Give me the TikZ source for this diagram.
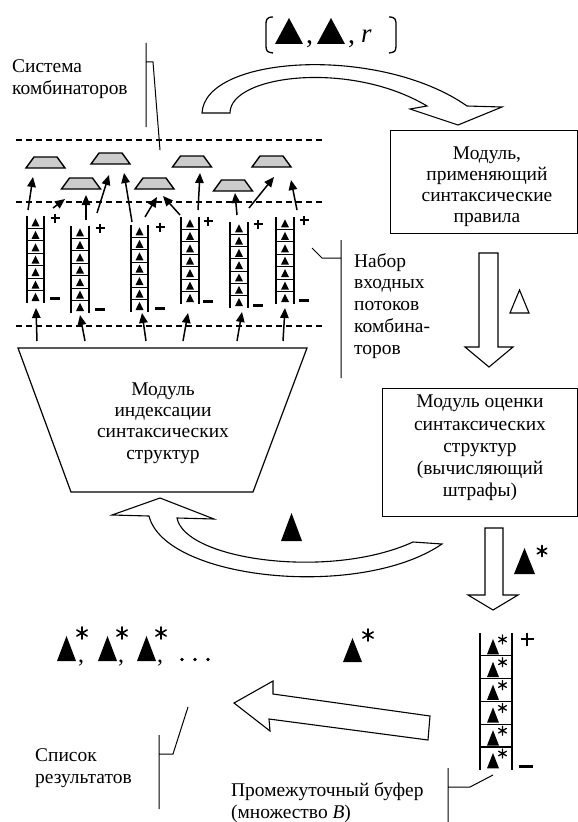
\documentclass[tikz,border=0pt]{standalone}
\usepackage{fontspec}
\setmainfont{Liberation Serif}
\usetikzlibrary{arrows.meta}
\tikzset{
 stk/.style={line width=1.2bp},
 pm/.style={line width=2.6bp},
 mm/.style={line width=3bp},
 trap/.style={draw, line width=1.4bp, fill=gray!40},
 dashln/.style={line width=1.6bp, dash pattern=on 6bp off 4bp},
 arr/.style={line width=1.5bp, -{Triangle[length=10bp,width=8.5bp]}},
 hollow/.style={draw, fill=white, line width=1.1bp, line join=miter},
 thinln/.style={line width=1bp},
 frame/.style={draw, line width=1bp},
 astline/.style={line width=1.5bp, line cap=round},
 txt/.style={inner sep=0pt, font=\fontsize{19.5}{22}\selectfont},
}
\newcommand\combstack[4]{%
  \pgfmathsetmacro\stkh{(#4-#3)/7}%
  \draw[stk] (#1,#3) -- (#1,#4) (#2,#3) -- (#2,#4);
  \foreach \i in {1,...,6}{\draw[stk] (#1,{#3+\i*\stkh}) -- (#2,{#3+\i*\stkh});}
  \foreach \i in {0,...,6}{\fill ({(#1+#2)/2-4},{#3+(\i+1)*\stkh-2}) -- ++(8,0) -- ({(#1+#2)/2},{#3+\i*\stkh+2.4}) -- cycle;}
}
\newcommand\plusmark[3]{\draw[pm] (#1-#3,#2) -- (#1+#3,#2) (#1,#2-#3) -- (#1,#2+#3);}
\newcommand\minusmark[2]{\draw[mm] (#1-5,#2) -- (#1+5,#2);}
\newcommand\gtrap[2]{\draw[trap] (#1-19.5,#2) -- (#1+19.5,#2) -- (#1+11.5,#2-11) -- (#1-11.5,#2-11) -- cycle;}
\newcommand\astk[4]{\draw[astline,line width=#4,shift={(#1,#2)}] (0,-#3) -- (0,#3) (30:#3) -- (210:#3) (150:#3) -- (330:#3);}
\begin{document}
\begin{tikzpicture}[x=1bp,y=-1bp]
\fill[white] (0,0) rectangle (578,822);
\useasboundingbox (0,0) rectangle (578,822);

% dashed levels
\draw[dashln] (16,140) -- (323,140);
\draw[dashln] (16,202) -- (322,202);
\draw[dashln] (16,326) -- (322,326);

% stacks of combinators
\combstack{27}{44}{216}{303}
\combstack{71}{89}{226}{313}
\combstack{131}{148}{225}{312}
\combstack{181}{199}{217}{304}
\combstack{230}{248}{222}{308}
\combstack{276}{294}{217}{304}
\plusmark{55}{218}{4.5}\minusmark{55}{298}
\plusmark{100}{228}{4.5}\minusmark{100}{309}
\plusmark{160}{227}{4.5}\minusmark{160}{308}
\plusmark{208}{221}{4.5}\minusmark{208}{301}
\plusmark{258}{224}{4.5}\minusmark{258}{305}
\plusmark{304}{220}{4.5}\minusmark{304}{300}

% combinators (trapezoids)
\gtrap{45.5}{168}
\gtrap{110.5}{164}
\gtrap{192}{167}
\gtrap{271.5}{167}
\gtrap{81}{189}
\gtrap{154.5}{189}
\gtrap{233}{191}

% arrows from stacks up to combinators
\foreach \xa/\ya/\xb/\yb [count=\n] in {28/210/33/177, 53/208/65/199, 86/220/86/195, 97/213/109/175, 132/222/124/173, 145/217/157/197, 180/215/163/196, 198/210/200/173, 237/215/235/193, 249/208/274/177, 297/210/291/180}{
  \coordinate (ua\n) at (\xa,\ya); \coordinate (ub\n) at (\xb,\yb);
  \draw[arr] (ua\n) -- (ub\n);
}
% arrows from index module up to stacks
\foreach \xa/\xb/\yb [count=\n] in {37/36/308, 85/80/315, 146/142/313, 183/188/313, 237/242/312, 283/285/308}{
  \coordinate (la\n) at (\xa,341); \coordinate (lb\n) at (\xb,\yb);
  \draw[arr] (la\n) -- (lb\n);
}

% index module
\draw[frame, line width=1.2bp] (18,348) -- (307,348) -- (253,492) -- (71,492) -- cycle;
\node[txt, align=center, font=\fontsize{19.5}{21.5}\selectfont] (idxt) at (163,423) {Модуль\\индексации\\синтаксических\\структур};

% label: system of combinators
\node[txt, anchor=west, align=left] (sys) at (12,78.7) {Система\\комбинаторов};
\draw[thinln] (146,43) -- (146,127) (146,62) -- (153,62) -- (160,150);

% top formula
\draw[line width=1.3bp] (273,17) .. controls (266,17) and (266,20) .. (266,26) -- (266,44) .. controls (266,52) and (267,52) .. (273,53);
\draw[line width=1.3bp] (389,17) .. controls (396,17) and (396,20) .. (396,26) -- (396,44) .. controls (396,52) and (395,52) .. (389,53);
\fill (275,44) -- (303,44) -- (289,18) -- cycle;
\fill (317,44) -- (345,44) -- (331,18) -- cycle;
\node[inner sep=0pt, anchor=base, font=\fontsize{28}{30}\selectfont] (c1) at (309.5,44) {,};
\node[inner sep=0pt, anchor=base, font=\fontsize{28}{30}\selectfont] (c2) at (351.5,44) {,};
\node[inner sep=0pt, anchor=base west, font=\fontsize{27}{29}\selectfont\itshape] (rr) at (361,43) {r};

% top curved hollow arrow
\draw[hollow] (202,113) -- (230,113) .. controls (230,75) and (350,60) .. (427,106) -- (410,109) -- (458,125) -- (502,107) -- (467,106) .. controls (380,45) and (205,55) .. cycle;

% box 1
\draw[frame] (390,130) rectangle (577,233);
\node[txt, align=center, font=\fontsize{19.5}{21}\selectfont] (box1t) at (487,187) {Модуль,\\применяющий\\синтаксические\\правила};

% down arrow 1 with delta
\draw[hollow] (479,253) -- (498,253) -- (498,347) -- (513,347) -- (489,367) -- (465,347) -- (479,347) -- cycle;
\draw[line width=1.1bp, line join=miter] (510,313) -- (529,313) -- (519.5,290) -- cycle;

% label: input streams
\node[txt, anchor=west, align=left] (nabor) at (354,306) {Набор\\входных\\потоков\\комбина-\\торов};
\draw[thinln] (341,240) -- (341,378) (341,258) -- (322,258) -- (312,248);

% box 2
\draw[frame] (382,388) rectangle (577,516);
\node[txt, align=center, font=\fontsize{19.5}{22.3}\selectfont] (box2t) at (480,448) {Модуль оценки\\синтаксических\\структур\\(вычисляющий\\штрафы)};

% return curved arrow
\draw[hollow] (160,498) -- (214,519) -- (177,518) .. controls (185,560) and (330,580) .. (413,542) -- (442,544) .. controls (360,600) and (165,580) .. (149,516) -- (112,515) -- cycle;
\fill (281,541) -- (302,541) -- (291.5,513) -- cycle;

% down arrow 2
\draw[hollow] (485,528) -- (503,528) -- (503,595) -- (518,595) -- (493,610) -- (468,595) -- (485,595) -- cycle;
\fill (514,574) -- (535,574) -- (524.5,548) -- cycle;
\astk{542}{551}{5.5}{1.6bp}

% buffer
\draw[stk] (480,633) -- (480,770) (512,633) -- (512,770);
\foreach \i in {1,...,5}{\draw[stk] (480,{633+\i*22.8}) -- (512,{633+\i*22.8});}
\foreach \i in {0,...,5}{
  \fill (487,{633+(\i+1)*22.8-1.5}) -- (499,{633+(\i+1)*22.8-1.5}) -- (493,{633+\i*22.8+6}) -- cycle;
  \astk{502.5}{633+\i*22.8+6.5}{4.5}{1.3bp}
}
\plusmark{527}{639}{6.5}
\draw[mm] (519,766) -- (533,766);

% results
\fill (57,661) -- (76,661) -- (66.5,636) -- cycle;
\fill (98,661) -- (117,661) -- (107.5,636) -- cycle;
\fill (137,661) -- (156,661) -- (146.5,636) -- cycle;
\astk{82}{633}{6}{1.6bp}
\astk{122}{633}{6}{1.6bp}
\astk{161}{633}{6}{1.6bp}
\node[inner sep=0pt, anchor=base, font=\fontsize{24}{26}\selectfont] (r1) at (81,662) {,};
\node[inner sep=0pt, anchor=base, font=\fontsize{24}{26}\selectfont] (r2) at (121,662) {,};
\node[inner sep=0pt, anchor=base, font=\fontsize{24}{26}\selectfont] (r3) at (160,662) {,};
\foreach \dx in {182,195,208}{\fill (\dx,659.5) circle (1.9);}

% single result with big arrow
\fill (343,662) -- (362,662) -- (352.5,638) -- cycle;
\astk{368}{635}{6}{1.6bp}
\draw[hollow] (234,703) -- (273,681) -- (273,694) -- (430,716) -- (428,740) -- (269,719) -- (270,731) -- cycle;

% labels bottom
\node[txt, anchor=west, align=left] (res) at (35,768.6) {Список\\результатов};
\draw[thinln] (159,735) -- (159,809) (159,754) -- (173,754) -- (188,707);
\node[txt, anchor=west, align=left] (buf) at (231,803) {Промежуточный буфер\\(множество \textit{B})};
\draw[thinln] (448,768) -- (448,822) (448,787) -- (470,787) -- (493,775);
\end{tikzpicture}
\end{document}
